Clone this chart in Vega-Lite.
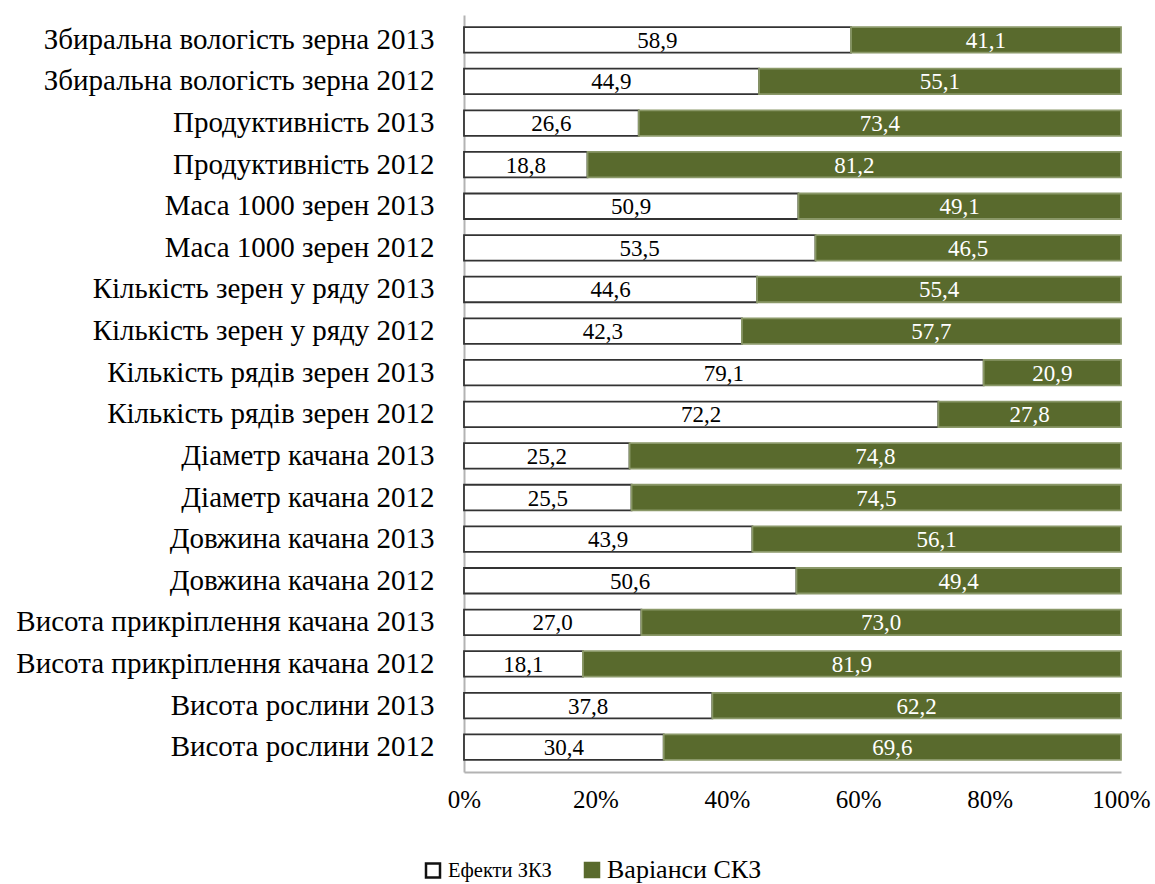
{
  "$schema": "https://vega.github.io/schema/vega-lite/v6.json",
  "width": 657,
  "height": 757,
  "autosize": {"type": "none"},
  "padding": {"left": 464, "top": 15, "right": 34, "bottom": 112},
  "background": "white",
  "config": {
    "font": "Times New Roman, Liberation Serif, serif",
    "view": {"stroke": null}
  },
  "data": {
    "values": [
      {"category": "Збиральна вологість зерна 2013", "series": "Ефекти ЗКЗ", "value": 58.9, "label": "58,9"},
      {"category": "Збиральна вологість зерна 2013", "series": "Варіанси СКЗ", "value": 41.1, "label": "41,1"},
      {"category": "Збиральна вологість зерна 2012", "series": "Ефекти ЗКЗ", "value": 44.9, "label": "44,9"},
      {"category": "Збиральна вологість зерна 2012", "series": "Варіанси СКЗ", "value": 55.1, "label": "55,1"},
      {"category": "Продуктивність 2013", "series": "Ефекти ЗКЗ", "value": 26.6, "label": "26,6"},
      {"category": "Продуктивність 2013", "series": "Варіанси СКЗ", "value": 73.4, "label": "73,4"},
      {"category": "Продуктивність 2012", "series": "Ефекти ЗКЗ", "value": 18.8, "label": "18,8"},
      {"category": "Продуктивність 2012", "series": "Варіанси СКЗ", "value": 81.2, "label": "81,2"},
      {"category": "Маса 1000 зерен 2013", "series": "Ефекти ЗКЗ", "value": 50.9, "label": "50,9"},
      {"category": "Маса 1000 зерен 2013", "series": "Варіанси СКЗ", "value": 49.1, "label": "49,1"},
      {"category": "Маса 1000 зерен 2012", "series": "Ефекти ЗКЗ", "value": 53.5, "label": "53,5"},
      {"category": "Маса 1000 зерен 2012", "series": "Варіанси СКЗ", "value": 46.5, "label": "46,5"},
      {"category": "Кількість зерен у ряду 2013", "series": "Ефекти ЗКЗ", "value": 44.6, "label": "44,6"},
      {"category": "Кількість зерен у ряду 2013", "series": "Варіанси СКЗ", "value": 55.4, "label": "55,4"},
      {"category": "Кількість зерен у ряду 2012", "series": "Ефекти ЗКЗ", "value": 42.3, "label": "42,3"},
      {"category": "Кількість зерен у ряду 2012", "series": "Варіанси СКЗ", "value": 57.7, "label": "57,7"},
      {"category": "Кількість рядів зерен 2013", "series": "Ефекти ЗКЗ", "value": 79.1, "label": "79,1"},
      {"category": "Кількість рядів зерен 2013", "series": "Варіанси СКЗ", "value": 20.9, "label": "20,9"},
      {"category": "Кількість рядів зерен 2012", "series": "Ефекти ЗКЗ", "value": 72.2, "label": "72,2"},
      {"category": "Кількість рядів зерен 2012", "series": "Варіанси СКЗ", "value": 27.8, "label": "27,8"},
      {"category": "Діаметр качана 2013", "series": "Ефекти ЗКЗ", "value": 25.2, "label": "25,2"},
      {"category": "Діаметр качана 2013", "series": "Варіанси СКЗ", "value": 74.8, "label": "74,8"},
      {"category": "Діаметр качана 2012", "series": "Ефекти ЗКЗ", "value": 25.5, "label": "25,5"},
      {"category": "Діаметр качана 2012", "series": "Варіанси СКЗ", "value": 74.5, "label": "74,5"},
      {"category": "Довжина качана 2013", "series": "Ефекти ЗКЗ", "value": 43.9, "label": "43,9"},
      {"category": "Довжина качана 2013", "series": "Варіанси СКЗ", "value": 56.1, "label": "56,1"},
      {"category": "Довжина качана 2012", "series": "Ефекти ЗКЗ", "value": 50.6, "label": "50,6"},
      {"category": "Довжина качана 2012", "series": "Варіанси СКЗ", "value": 49.4, "label": "49,4"},
      {"category": "Висота прикріплення качана 2013", "series": "Ефекти ЗКЗ", "value": 27.0, "label": "27,0"},
      {"category": "Висота прикріплення качана 2013", "series": "Варіанси СКЗ", "value": 73.0, "label": "73,0"},
      {"category": "Висота прикріплення качана 2012", "series": "Ефекти ЗКЗ", "value": 18.1, "label": "18,1"},
      {"category": "Висота прикріплення качана 2012", "series": "Варіанси СКЗ", "value": 81.9, "label": "81,9"},
      {"category": "Висота рослини 2013", "series": "Ефекти ЗКЗ", "value": 37.8, "label": "37,8"},
      {"category": "Висота рослини 2013", "series": "Варіанси СКЗ", "value": 62.2, "label": "62,2"},
      {"category": "Висота рослини 2012", "series": "Ефекти ЗКЗ", "value": 30.4, "label": "30,4"},
      {"category": "Висота рослини 2012", "series": "Варіанси СКЗ", "value": 69.6, "label": "69,6"}
    ]
  },
  "encoding": {
    "y": {
      "field": "category",
      "type": "nominal",
      "sort": null,
      "scale": {"paddingInner": 0.387, "paddingOuter": 0.29},
      "axis": {
        "title": null,
        "ticks": false,
        "domainColor": "#b3b3b3",
        "domainWidth": 2,
        "labelFontSize": 29,
        "labelColor": "black",
        "labelPadding": 30,
        "labelLimit": 0
      }
    },
    "x": {
      "field": "value",
      "type": "quantitative",
      "stack": "normalize",
      "scale": {"domain": [0, 1]},
      "axis": {
        "title": null,
        "format": ".0%",
        "values": [0, 0.2, 0.4, 0.6, 0.8, 1],
        "grid": false,
        "ticks": false,
        "domainColor": "#b3b3b3",
        "domainWidth": 2,
        "labelFontSize": 25,
        "labelColor": "black",
        "labelPadding": 15,
        "labelFlush": false
      }
    },
    "order": {"field": "series", "sort": "descending"}
  },
  "layer": [
    {
      "mark": {"type": "bar", "strokeWidth": 1.8},
      "encoding": {
        "fill": {
          "field": "series",
          "type": "nominal",
          "scale": {"domain": ["Ефекти ЗКЗ", "Варіанси СКЗ"], "range": ["white", "#596a2d"]},
          "legend": {
            "title": null,
            "orient": "none",
            "direction": "horizontal",
            "legendX": -44,
            "legendY": 842,
            "symbolType": "square",
            "symbolSize": 196,
            "symbolStrokeWidth": 2.5,
            "symbolStrokeColor": {"expr": "datum.index == 0 ? '#111111' : '#596a2d'"},
            "labelOffset": 2,
            "columnPadding": 27,
            "labelFontSize": {"expr": "datum.index == 0 ? 20.5 : 26"},
            "labelColor": "black",
            "labelLimit": 0
          }
        },
        "stroke": {
          "condition": {"test": "datum.series == 'Ефекти ЗКЗ'", "value": "#333333"},
          "value": "#8a9868"
        }
      }
    },
    {
      "mark": {"type": "text", "fontSize": 23, "baseline": "middle", "dy": 1},
      "encoding": {
        "x": {"field": "value", "type": "quantitative", "stack": "normalize", "bandPosition": 0.5},
        "text": {"field": "label"},
        "color": {
          "condition": {"test": "datum.series == 'Варіанси СКЗ'", "value": "white"},
          "value": "black"
        }
      }
    }
  ]
}
